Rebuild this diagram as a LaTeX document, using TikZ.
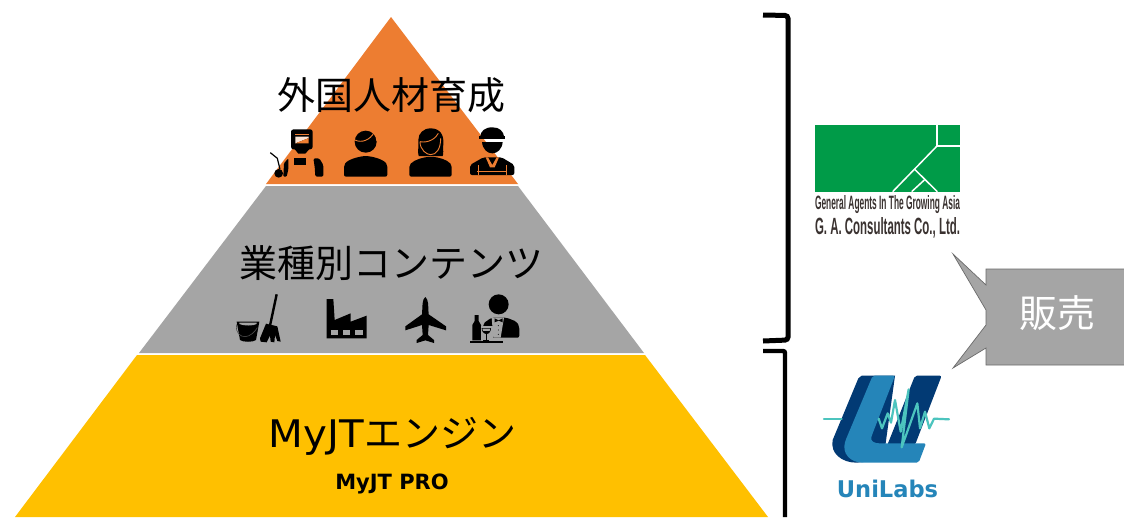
\documentclass[tikz,border=0pt]{standalone}
\usepackage{fontspec}
\setmainfont{Liberation Sans}
\newfontfamily\cjk{Noto Sans CJK JP}
\newfontfamily\dvb{DejaVu Sans}
\definecolor{orangeT}{HTML}{ED7D31}
\definecolor{greyT}{HTML}{A5A5A5}
\definecolor{goldT}{HTML}{FFC000}
\definecolor{gagreen}{HTML}{009B48}
\definecolor{gabrown}{HTML}{3A3230}
\definecolor{uniDark}{HTML}{023A74}
\definecolor{uniMid}{HTML}{2585B9}
\definecolor{uniTeal}{HTML}{4CC4BE}
\tikzset{
  x=1pt,y=-1pt,
  big/.style={inner sep=0,font=\fontsize{38}{38}\selectfont\cjk,text=black},
  zoomed/.style={scale=1/3}
}
\begin{document}
\begin{tikzpicture}
\useasboundingbox (0,0) rectangle (1124,517);
\clip (0,0) rectangle (1124,517);
\fill[white] (0,0) rectangle (1124,517);
% pyramid
\fill[orangeT] (391,17) -- (518,184) -- (266,184) -- cycle;
\fill[greyT] (266,186) -- (518,186) -- (644,353) -- (139,353) -- cycle;
\fill[goldT] (137,355) -- (645,355) -- (768,517) -- (15,517) -- cycle;
\node[big] (t1) at (391,95) {外国人材育成};
\node[big] (t2) at (391,263) {業種別コンテンツ};
\node[inner sep=0,font=\fontsize{38}{38}\selectfont\dvb] (t3) at (392.5,436) {\scalebox{1.06}[1]{MyJT}\cjk\fontsize{38}{38}\selectfont エンジン};
\node[inner sep=0,font=\fontsize{21}{21}\selectfont\dvb\bfseries] (t4) at (392,484) {MyJT PRO};
% people icons
\begin{scope}[shift={(220,110)},zoomed]
 % welder
 \fill[black,rounded corners=2.5pt] (213,58) rectangle (278,118);
 \fill[black] (222,115) -- (270,115) -- (256,131) -- (235,131) -- cycle;
 \fill[white!80!orangeT] (226,80) -- (266,80) -- (266,84) -- (226,100) -- cycle;
 \fill[orangeT] (226,71) rectangle (266,76);
 \fill[orangeT] (226,100) -- (266,84) -- (266,100) -- cycle;
 \fill[black] (222,145) rectangle (258,165);
 \fill[black,rounded corners=1.5pt] (280,145) -- (298,145) -- (310,165) -- (310,200) -- (286,200) -- (284,170) -- cycle;
 \fill[black,rounded corners=1pt] (192,160) -- (205,145) -- (205,178) -- (200,200) -- (190,200) -- cycle;
 \draw[black,line width=1.2pt] (151,128) -- (172,145) -- (180,178);
 \fill[black] (176,190) circle (13);
 % man
 \fill[black] (437,95) circle (33);
 \draw[orangeT,line width=.9pt] (405,90) .. controls (425,100) and (450,90) .. (462,68) .. controls (468,75) and (470,85) .. (470,92);
 \fill[black,rounded corners=2pt] (372,200) -- (372,165) .. controls (385,148) and (415,140) .. (437,138) .. controls (460,140) and (490,148) .. (502,165) -- (502,200) -- cycle;
 % woman
 \fill[black] (632,55) .. controls (660,55) and (672,75) .. (670,100) .. controls (668,120) and (672,130) .. (668,138) -- (596,138) .. controls (592,125) and (597,110) .. (595,90) .. controls (595,70) and (610,55) .. (632,55) -- cycle;
 \draw[orangeT,line width=.9pt] (600,95) .. controls (625,100) and (648,85) .. (655,70);
 \draw[orangeT,line width=.9pt] (600,95) .. controls (600,120) and (620,134) .. (632,134) .. controls (648,134) and (662,118) .. (662,85);
 \fill[black,rounded corners=2pt] (568,200) -- (568,165) .. controls (585,148) and (610,142) .. (632,140) .. controls (655,142) and (680,148) .. (695,165) -- (695,200) -- cycle;
 % worker
 \fill[black] (780,82) .. controls (782,62) and (795,52) .. (817,52) .. controls (838,52) and (850,62) .. (853,82) -- cycle;
 \fill[black] (778,78) rectangle (856,86);
 \fill[black] (786,96) -- (848,96) .. controls (846,118) and (832,130) .. (817,130) .. controls (802,130) and (788,118) .. (786,96) -- cycle;
 \fill[black,rounded corners=2pt] (750,195) -- (750,165) -- (790,142) -- (845,142) -- (883,165) -- (883,195) -- cycle;
 \fill[orangeT] (797,142) -- (804,142) -- (817,165) -- (830,142) -- (837,142) -- (824,172) -- (810,172) -- cycle;
 \draw[orangeT,line width=.8pt] (775,165) -- (775,195) (858,165) -- (858,195);
 \draw[orangeT,line width=.8pt] (772,183) -- (862,183);
\end{scope}
% trade icons
\begin{scope}[shift={(220,285)},zoomed]
 % bucket
 \fill[black] (50,110) -- (118,110) -- (108,165) .. controls (100,172) and (68,172) .. (60,165) -- cycle;
 \fill[greyT] (58,117) .. controls (70,123) and (100,123) .. (110,117) -- (110,113) -- (58,113) -- cycle;
 \draw[black!70,line width=.6pt] (50,118) .. controls (45,145) and (62,155) .. (75,155) .. controls (90,155) and (105,140) .. (112,128);
 % mop
 \draw[black,line width=2.4pt] (170,28) -- (150,122);
 \fill[black] (138,116) -- (172,124) -- (182,170) -- (172,168) -- (165,150) -- (163,172) -- (152,170) -- (150,152) -- (140,172) -- (122,170) -- (120,160) -- cycle;
 % factory
 \fill[black] (320,160) -- (320,42) -- (340,42) -- (344,105) -- (392,85) -- (392,110) -- (440,92) -- (440,160) -- cycle;
 \fill[greyT] (332,136) rectangle (355,150);
 \fill[greyT] (368,136) rectangle (391,150);
 \fill[greyT] (405,136) rectangle (428,150);
 % plane
 \fill[black] (616,36) .. controls (606,44) and (608,60) .. (606,88) -- (556,124) -- (556,136) -- (606,120) -- (608,150) -- (590,165) -- (590,174) -- (616,166) -- (642,174) -- (642,165) -- (624,150) -- (626,120) -- (678,136) -- (678,124) -- (626,88) .. controls (624,60) and (626,44) .. (616,36) -- cycle;
 % waiter
 \fill[black] (836,58) circle (30);
 \fill[black,rounded corners=2pt] (790,158) -- (790,115) -- (815,98) -- (860,98) -- (890,110) -- (898,125) -- (898,158) -- cycle;
 \fill[greyT] (815,98) -- (852,98) -- (842,158) -- (820,158) -- cycle;
 \fill[black] (824,100) -- (836,106) -- (848,100) -- (848,112) -- (836,107) -- (824,112) -- cycle;
 \fill[black] (835,122) circle (1.6) (835,135) circle (1.6) (835,148) circle (1.6);
 \fill[black] (764,90) -- (776,90) -- (776,108) -- (783,120) -- (783,166) -- (757,166) -- (757,120) -- (764,108) -- cycle;
 \fill[greyT] (783,122) rectangle (818,166);
 \draw[black,line width=.6pt] (786,130) .. controls (786,150) and (812,150) .. (812,130) -- cycle;
 \fill[black] (788,138) .. controls (790,150) and (810,150) .. (810,138) -- cycle;
 \draw[black,line width=.7pt] (799,146) -- (799,166) (790,166) -- (808,166);
 \fill[black] (750,167) rectangle (848,174);
\end{scope}
% brackets
\coordinate (b1a) at (763,15);
\coordinate (b1b) at (763,341);
\draw[line width=5pt,rounded corners=3pt] (b1a) -- (788,15.5) -- (788,340) -- (b1b);
\coordinate (b2a) at (763,351);
\coordinate (b2b) at (785,517);
\draw[line width=4.4pt,rounded corners=2pt] (b2a) -- (785,351) -- (b2b);
% GA logo
\begin{scope}[shift={(800,115)},zoomed]
 \fill[gagreen] (46,30) rectangle (480,230);
 \draw[white,line width=1.5pt] (411,30) -- (411,93) -- (480,93);
 \draw[white,line width=1.5pt] (411,93) -- (278,230);
 \draw[white,line width=1.5pt] (343,162) -- (412,230);
 \draw[white,line width=1.5pt] (373,195) -- (335,230);
\end{scope}
\node[inner sep=0,text=gabrown,font=\bfseries] (ga1) at (887.5,205) {\resizebox{145pt}{14pt}{General Agents In The Growing Asia}};
\node[inner sep=0,text=gabrown,font=\bfseries] (ga2) at (887.5,228) {\resizebox{145pt}{17pt}{G. A. Consultants Co., Ltd.}};
% callout
\fill[greyT,draw=black!35!greyT,line width=.7pt] (1125,269) -- (986,269) -- (986,285) -- (953,254) -- (986,310) -- (986,325) -- (953,368) -- (986,348) -- (986,365) -- (1125,365) -- cycle;
\node[inner sep=0,text=white,font=\fontsize{38}{38}\selectfont\cjk] (sell) at (1057,313) {販売};
% UniLabs
\begin{scope}[shift={(800,360)},zoomed]
 \fill[uniDark] (185,47) -- (285,47) -- (250,300) -- (170,308) .. controls (125,308) and (90,280) .. (98,240) -- (175,55) -- cycle;
 \fill[uniDark,rounded corners=2pt] (345,47) -- (425,47) -- (345,255) -- (262,255) -- cycle;
 \fill[uniMid,rounded corners=2pt] (218,47) -- (285,47) -- (216,225) .. controls (210,245) and (225,250) .. (245,250) -- (378,250) -- (356,308) -- (195,308) .. controls (150,308) and (125,280) .. (137,240) -- cycle;
 \draw[uniTeal,line width=2.2pt,line join=round,line cap=round] (72,176) -- (125,176);
 \draw[uniTeal,line width=2.2pt,line join=round,line cap=round] (236,176) -- (246,205) -- (263,160) -- (273,188) -- (285,120) -- (302,215) -- (326,88) -- (305,262) -- (352,130) -- (360,205) -- (375,155) -- (388,205) -- (402,176) -- (447,178);
\end{scope}
\node[inner sep=0,text=uniMid,font=\fontsize{23}{23}\selectfont\dvb\bfseries] (uni) at (887.5,489) {\scalebox{0.98}[1]{UniLabs}};
\end{tikzpicture}
\end{document}
